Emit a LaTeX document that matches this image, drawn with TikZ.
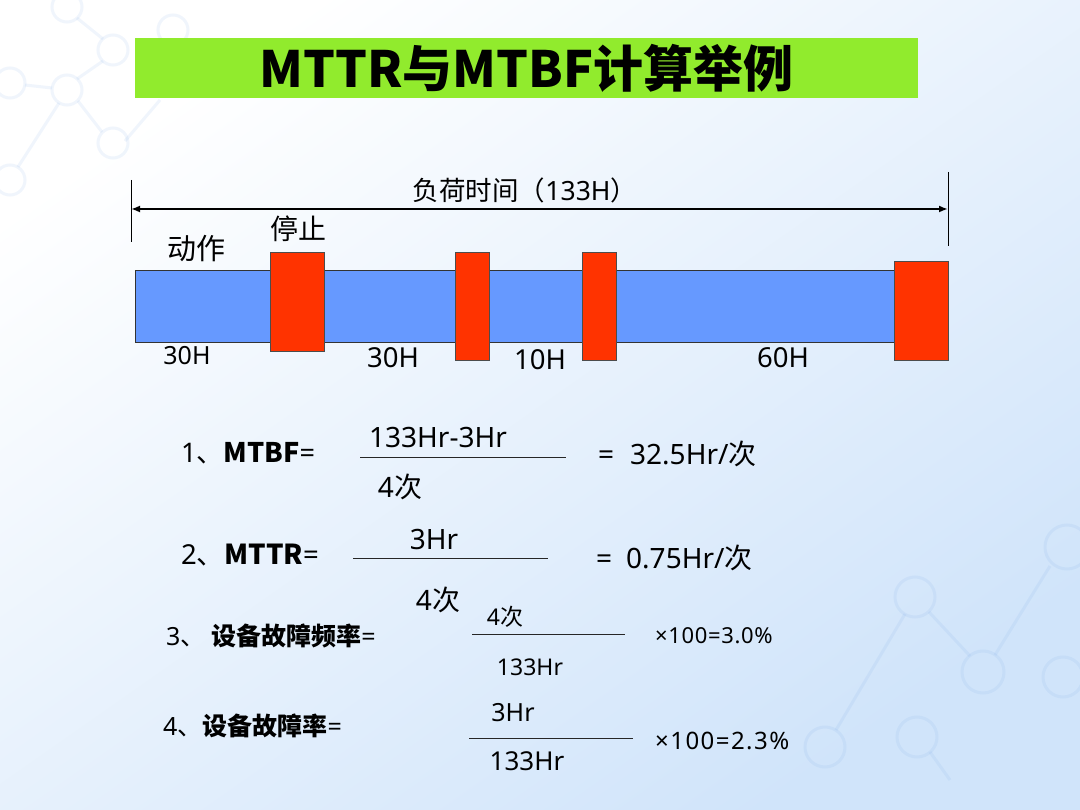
\documentclass[tikz,border=0pt]{standalone}
\usepackage{fontspec}
\setmainfont{Noto Sans}
\newfontfamily\cjk{Noto Sans CJK SC}
\usetikzlibrary{arrows.meta}
\definecolor{titlegreen}{RGB}{145,235,45}
\definecolor{barblue}{RGB}{102,153,255}
\definecolor{stopred}{RGB}{255,51,0}
\definecolor{bgblue}{RGB}{208,228,250}
\definecolor{molecule}{RGB}{110,160,230}
\tikzset{
  txt/.style={inner sep=0pt, text=black},
  runbar/.style={fill=barblue, draw=black!80, line width=0.8pt},
  stopbox/.style={fill=stopred, draw=black!70, line width=0.8pt},
  fracline/.style={draw=black!85, line width=1pt},
  mol/.style={draw=molecule, draw opacity=0.1, line width=3pt},
}
\newcommand{\fs}[1]{\fontsize{#1}{#1}\selectfont}
\begin{document}
\begin{tikzpicture}[x=1pt,y=-1pt]
\useasboundingbox (0,0) rectangle (1080,810);
% background
\shade[shading=axis, top color=white, bottom color=bgblue, shading angle=35] (0,0) rectangle (1080,810);
% faint molecules top-left
\draw[mol] (67,7) circle (15) (113,50) circle (15) (67,90) circle (15) (113,143) circle (15) (10,83) circle (15) (10,180) circle (15) (173,30) circle (15);
\draw[mol] (77,18) -- (103,39) (103,61) -- (77,79) (78,101) -- (102,132) (59,103) -- (18,167) (25,85) -- (52,88) (125,141) -- (160,100);
% faint molecules bottom-right
\draw[mol] (915,597) circle (20) (983,672) circle (21) (1067,547) circle (22) (1063,677) circle (20) (825,747) circle (20) (917,737) circle (20);
\draw[mol] (836,730) -- (905,614) (929,612) -- (970,656) (995,655) -- (1050,566) (930,752) -- (950,780);
% title
\node[fill=titlegreen, minimum width=783pt, minimum height=60pt, inner sep=0pt] (titlebox) at (526.5,68) {};
\node[txt, font=\cjk\bfseries\fs{50}] (title) at (titlebox.center) {MTTR与MTBF计算举例};
% timeline
\coordinate (ls) at (131,209);
\coordinate (le) at (948,209);
\draw[line width=0.8pt] (131,180) -- (131,242);
\draw[line width=0.8pt] (948,172) -- (948,246);
\draw[line width=2pt, {Latex[length=9pt,width=7pt]}-{Latex[length=9pt,width=7pt]}] (ls) -- (le);
\node[txt, font=\fs{26.5}] (load) at (525,190) {{\cjk 负荷时间（}133H{\cjk ）}};
% bar
\node[runbar, minimum width=813pt, minimum height=72pt, inner sep=0pt] (bar) at (541.5,306) {};
\node[stopbox, minimum width=54pt, minimum height=99pt, inner sep=0pt] (s1) at (297,301.5) {};
\node[stopbox, minimum width=34pt, minimum height=108pt, inner sep=0pt] (s2) at (472,306) {};
\node[stopbox, minimum width=34pt, minimum height=108pt, inner sep=0pt] (s3) at (599,306) {};
\node[stopbox, minimum width=54pt, minimum height=99pt, inner sep=0pt] (s4) at (921,310.5) {};
\node[txt, font=\cjk\fs{29}] (act) at (196,249) {动作};
\node[txt, font=\cjk\fs{28}] (stop) at (298,229) {停止};
\node[txt, font=\fs{25}] (h1) at (187,356) {30H};
\node[txt, font=\fs{27.5}] (h2) at (393,358) {30H};
\node[txt, font=\fs{27.5}] (h3) at (540,360) {10H};
\node[txt, font=\fs{27.5}] (h4) at (783,358) {60H};
% formula 1
\node[txt, anchor=west, font=\fs{27}] (f1) at (181,453) {1{\cjk 、}{\cjk\bfseries MTBF}=};
\coordinate (f1a) at (360,458);
\coordinate (f1b) at (566,458);
\draw[fracline] (f1a) -- (f1b);
\node[txt, font=\fs{28}] (n1) at (438,438) {133Hr-3Hr};
\node[txt, font=\fs{28}] (d1) at (400,487) {4{\cjk 次}};
\node[txt, anchor=west, font=\fs{28}] (r1) at (598,454) {=\hspace{16pt}32.5Hr/{\cjk 次}};
% formula 2
\node[txt, anchor=west, font=\fs{27.5}] (f2) at (181,555) {2{\cjk 、}{\cjk\bfseries MTTR}=};
\coordinate (f2a) at (353,558);
\coordinate (f2b) at (548,558);
\draw[fracline] (f2a) -- (f2b);
\node[txt, font=\fs{28}] (n2) at (434,540) {3Hr};
\node[txt, font=\fs{28}] (d2) at (438,600) {4{\cjk 次}};
\node[txt, anchor=west, font=\fs{28}] (r2) at (596,558) {=\hspace{14pt}0.75Hr/{\cjk 次}};
% formula 3
\node[txt, anchor=west, font=\fs{25}] (f3) at (166,636) {3{\cjk 、}\hspace{6pt}{\cjk\bfseries 设备故障频率}=};
\coordinate (f3a) at (472,634);
\coordinate (f3b) at (625,634);
\draw[fracline] (f3a) -- (f3b);
\node[txt, font=\fs{23}] (n3) at (505,617) {4{\cjk 次}};
\node[txt, font=\fs{23}] (d3) at (530,667) {133Hr};
\node[txt, anchor=west, font=\addfontfeature{LetterSpace=3}\fs{22}] (r3) at (655,636) {×100=3.0\%};
% formula 4
\node[txt, anchor=west, font=\fs{25}] (f4) at (163,726) {4{\cjk 、}{\cjk\bfseries 设备故障率}=};
\coordinate (f4a) at (469,738);
\coordinate (f4b) at (633,738);
\draw[fracline] (f4a) -- (f4b);
\node[txt, font=\fs{25}] (n4) at (513,713) {3Hr};
\node[txt, font=\fs{26}] (d4) at (527,761) {133Hr};
\node[txt, anchor=west, font=\addfontfeature{LetterSpace=6}\fs{24}] (r4) at (655,741) {×100=2.3\%};
\end{tikzpicture}
\end{document}
